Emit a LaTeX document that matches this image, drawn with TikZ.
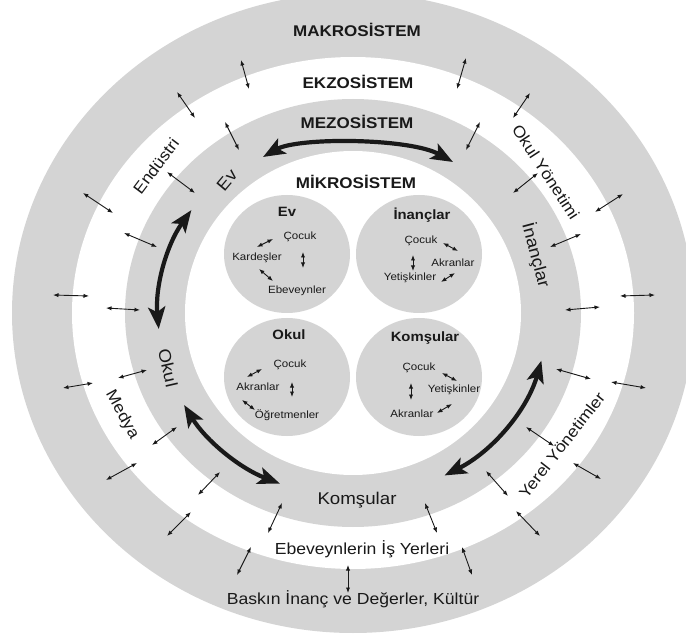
\documentclass[tikz,border=0pt]{standalone}
\usepackage{fontspec}
\usepackage{graphicx}
\setmainfont{Liberation Sans}
\usetikzlibrary{arrows.meta,calc}
\definecolor{ringgray}{RGB}{212,212,212}
\definecolor{ink}{RGB}{25,25,25}
\newcommand{\myw}[1]{\scalebox{1.1}[1]{#1}}
\begin{document}
\begin{tikzpicture}[x=1pt,y=-1pt,
  title/.style={font=\bfseries\fontsize{15.5}{17}\selectfont, text=ink, inner sep=0pt},
  ringlabel/.style={font=\fontsize{16}{18}\selectfont, text=ink, inner sep=0pt},
  mezolabel/.style={font=\fontsize{17}{19}\selectfont, text=ink, inner sep=0pt},
  ctitle/.style={font=\bfseries\fontsize{13.5}{15}\selectfont, text=ink, inner sep=0pt},
  ctext/.style={font=\fontsize{10.5}{12}\selectfont, text=ink, inner sep=0pt},
  sarr/.style={{Latex[length=5.5pt,width=4.2pt]}-{Latex[length=5.5pt,width=4.2pt]}, line width=0.9pt, draw=ink},
  bigarr/.style={{Stealth[length=22pt,width=17pt,inset=5pt]}-{Stealth[length=22pt,width=17pt,inset=5pt]}, line width=4.2pt, draw=ink},
]
\useasboundingbox (0,0) rectangle (686,639);
\clip (0,0) rectangle (686,639);
\fill[white] (0,0) rectangle (686,639);
\coordinate (O) at (353,313);
% rings
\fill[ringgray] (O) ellipse [x radius=341, y radius=320];
\fill[white] (O) ellipse [x radius=281, y radius=256];
\fill[ringgray] (O) ellipse [x radius=228, y radius=214];
\fill[white] (O) ellipse [x radius=168, y radius=162];
% micro circles
\fill[ringgray] (287,254) ellipse [x radius=63, y radius=59];
\fill[ringgray] (419,254) ellipse [x radius=63, y radius=59];
\fill[ringgray] (287,377) ellipse [x radius=63, y radius=59];
\fill[ringgray] (419,377) ellipse [x radius=63, y radius=59];

% titles
\node[title] (makro) at (357,30) {\myw{MAKROSİSTEM}};
\node[title] (ekzo) at (358,82) {\myw{EKZOSİSTEM}};
\node[title] (mezo) at (357,122) {\myw{MEZOSİSTEM}};
\node[title] (mikro) at (356,182) {\myw{MİKROSİSTEM}};

% mezo labels
\node[mezolabel, rotate=50] (mEv) at (227,180) {\myw{Ev}};
\node[mezolabel, rotate=-75] (mInanc) at (536,255) {\myw{İnançlar}};
\node[mezolabel, rotate=-77] (mOkul) at (168,368) {\myw{Okul}};
\node[mezolabel] (mKomsu) at (357,500) {\myw{Komşular}};

% ekzo labels
\node[ringlabel, rotate=53] (endustri) at (156,166) {\myw{Endüstri}};
\node[ringlabel, rotate=-57] (okulyon) at (546,172) {\myw{Okul Yönetimi}};
\node[ringlabel, rotate=-61] (medya) at (122,415) {\myw{Medya}};
\node[ringlabel, rotate=52] (yerel) at (562,445) {\myw{Yerel Yönetimler}};
\node[ringlabel] (isyer) at (362,549) {\myw{Ebeveynlerin İş Yerleri}};
% makro label
\node[ringlabel] (baskin) at (353,599) {\myw{Baskın İnanç ve Değerler, Kültür}};

% micro circle: Ev
\node[ctitle] (evT) at (287,212) {\myw{Ev}};
\node[ctext] (evC) at (300,237) {\myw{Çocuk}};
\node[ctext] (evK) at (257,258) {\myw{Kardeşler}};
\node[ctext] (evE) at (297,291) {\myw{Ebeveynler}};
% micro circle: Inanclar
\node[ctitle] (inT) at (422,215) {\myw{İnançlar}};
\node[ctext] (inC) at (421,241) {\myw{Çocuk}};
\node[ctext] (inA) at (453,263) {\myw{Akranlar}};
\node[ctext] (inY) at (410,278) {\myw{Yetişkinler}};
% micro circle: Okul
\node[ctitle] (okT) at (289,335) {\myw{Okul}};
\node[ctext] (okC) at (290,365) {\myw{Çocuk}};
\node[ctext] (okA) at (258,387) {\myw{Akranlar}};
\node[ctext] (okO) at (287,415) {\myw{Öğretmenler}};
% micro circle: Komsular
\node[ctitle] (koT) at (425,338) {\myw{Komşular}};
\node[ctext] (koC) at (419,368) {\myw{Çocuk}};
\node[ctext] (koY) at (454,390) {\myw{Yetişkinler}};
\node[ctext] (koA) at (412,414) {\myw{Akranlar}};

% small arrows in micro circles
\foreach \xa/\ya/\xb/\yb in {
  257/247/273/239, 303/252/303/268, 259/269/273/281,
  443/243/458/251, 413/255/413/271, 441/282/455/273,
  247/377/262/369, 292/382/292/397, 242/400/255/410,
  442/373/457/381, 411/383/411/400, 437/413/452/404}
  \draw[sarr] (\xa,\ya) -- (\xb,\yb);

% small arrows crossing ring borders
\foreach \xa/\ya/\xb/\yb in {
  241/60/249/89, 177/92/195/118, 225/122/239/150, 167/172/195/193,
  83/193/113/213, 124/233/157/247, 53/295/89/296, 106/308/140/310,
  466/58/457/89, 530/93/513/118, 480/122/466/150, 538/173/513/193,
  623/194/595/212, 581/234/550/247, 655/295/620/296, 600/307/565/310,
  63/388/93/383, 118/378/147/370, 152/445/177/427, 106/480/137/463,
  198/495/220/472, 167/536/191/512, 268/533/282/503, 237/575/251/547,
  556/369/591/379, 611/382/646/388, 526/427/554/446, 573/463/601/479,
  486/471/508/496, 516/511/540/536, 425/503/437/533, 462/547/472/575,
  348/565/348/593}
  \draw[sarr] (\xa,\ya) -- (\xb,\yb);

% big mezo arrows
\coordinate (tA) at (263,157);
\coordinate (tB) at (453,162);
\draw[bigarr] (tA) .. controls (298,137) and (410,138) .. (tB);
\draw[bigarr] ($(O)+(214:195 and 184)$) arc[start angle=214, end angle=175, x radius=195, y radius=184];
\draw[bigarr] ($(O)+(150:195 and 184)$) arc[start angle=150, end angle=112, x radius=195, y radius=184];
\draw[bigarr] ($(O)+(62:195 and 184)$) arc[start angle=62, end angle=15, x radius=195, y radius=184];
\end{tikzpicture}
\end{document}
